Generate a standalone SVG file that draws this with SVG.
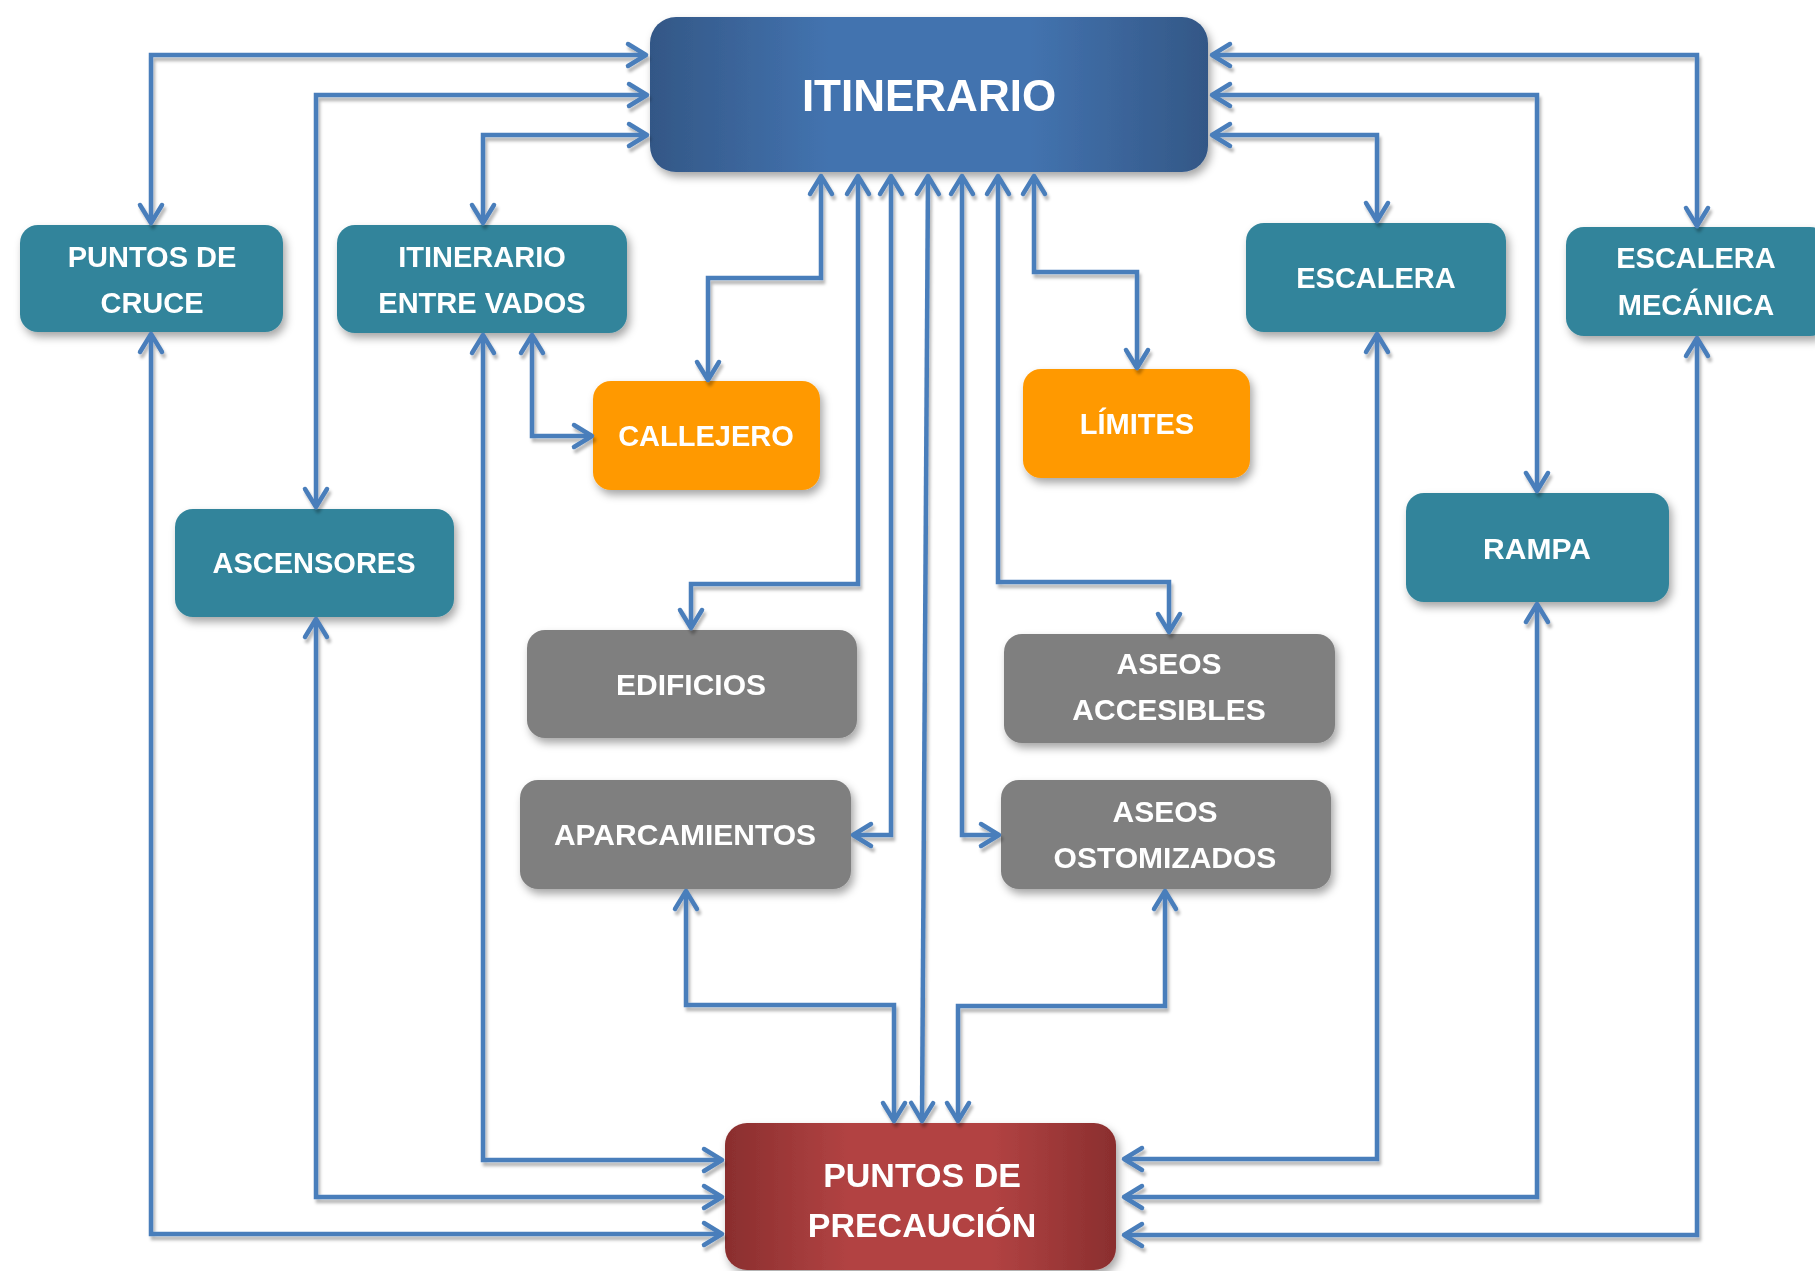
<svg xmlns="http://www.w3.org/2000/svg" width="1815" height="1271" viewBox="0 0 1815 1271">
<defs>
<style>
.t{font-family:"Liberation Sans",Arial,sans-serif;font-weight:bold;fill:#FFFFFF;text-anchor:middle}
.s{font-size:29px}
.g{font-size:30px}
.teal{fill:#31849B}
.org{fill:#FF9900}
.gry{fill:#7F7F7F}
.c{fill:none;stroke:#4A7EBB;stroke-width:4.5;stroke-linejoin:miter;marker-start:url(#ar);marker-end:url(#ar)}
</style>
<linearGradient id="gBlue" x1="0" y1="0" x2="1" y2="0">
<stop offset="0" stop-color="#335786"/>
<stop offset="0.32" stop-color="#4373AF"/>
<stop offset="0.68" stop-color="#4373AF"/>
<stop offset="1" stop-color="#335786"/>
</linearGradient>
<linearGradient id="gRed" x1="0" y1="0" x2="1" y2="0">
<stop offset="0" stop-color="#8A2E2E"/>
<stop offset="0.32" stop-color="#B24343"/>
<stop offset="0.68" stop-color="#B24343"/>
<stop offset="1" stop-color="#8A2E2E"/>
</linearGradient>
<filter id="sh" x="-10%" y="-10%" width="130%" height="140%">
<feDropShadow dx="3" dy="5" stdDeviation="4" flood-color="#000" flood-opacity="0.35"/>
</filter>
<filter id="lsh" filterUnits="userSpaceOnUse" x="0" y="0" width="1815" height="1271">
<feDropShadow dx="2" dy="4" stdDeviation="1.5" flood-color="#000" flood-opacity="0.28"/>
</filter>
<marker id="ar" markerUnits="userSpaceOnUse" markerWidth="24" markerHeight="24" viewBox="0 0 24 24" refX="20" refY="12" orient="auto-start-reverse" overflow="visible">
<path d="M2,1 L20,12 L2,23" fill="none" stroke="#4A7EBB" stroke-width="4.5" stroke-linecap="round" stroke-linejoin="round"/>
</marker>
</defs>
<rect x="0" y="0" width="1815" height="1271" fill="#FFFFFF"/>

<g id="itinerario" filter="url(#sh)">
<rect x="650" y="17" width="558" height="155" rx="26" fill="url(#gBlue)"/>
<text class="t" x="929" y="111" font-size="44">ITINERARIO</text>
</g>
<g id="puntos-de-cruce" filter="url(#sh)">
<rect class="teal" x="20" y="225" width="263" height="107" rx="18"/>
<text class="t s" x="152" y="267">PUNTOS DE</text>
<text class="t s" x="152" y="313">CRUCE</text>
</g>
<g id="itinerario-entre-vados" filter="url(#sh)">
<rect class="teal" x="337" y="225" width="290" height="108" rx="18"/>
<text class="t s" x="482" y="267">ITINERARIO</text>
<text class="t s" x="482" y="313">ENTRE VADOS</text>
</g>
<g id="callejero" filter="url(#sh)">
<rect class="org" x="593" y="381" width="227" height="109" rx="18"/>
<text class="t s" x="706" y="446">CALLEJERO</text>
</g>
<g id="limites" filter="url(#sh)">
<rect class="org" x="1023" y="369" width="227" height="109" rx="18"/>
<text class="t s" x="1137" y="434">LÍMITES</text>
</g>
<g id="escalera" filter="url(#sh)">
<rect class="teal" x="1246" y="223" width="260" height="109" rx="18"/>
<text class="t s" x="1376" y="288">ESCALERA</text>
</g>
<g id="escalera-mecanica" filter="url(#sh)">
<rect class="teal" x="1566" y="227" width="262" height="109" rx="18"/>
<text class="t s" x="1696" y="268">ESCALERA</text>
<text class="t s" x="1696" y="315">MECÁNICA</text>
</g>
<g id="ascensores" filter="url(#sh)">
<rect class="teal" x="175" y="509" width="279" height="108" rx="18"/>
<text class="t s" x="314" y="573">ASCENSORES</text>
</g>
<g id="rampa" filter="url(#sh)">
<rect class="teal" x="1406" y="493" width="263" height="109" rx="18"/>
<text class="t" x="1537" y="559" font-size="30">RAMPA</text>
</g>
<g id="edificios" filter="url(#sh)">
<rect class="gry" x="527" y="630" width="330" height="108" rx="18"/>
<text class="t g" x="691" y="695">EDIFICIOS</text>
</g>
<g id="aseos-accesibles" filter="url(#sh)">
<rect class="gry" x="1004" y="634" width="331" height="109" rx="18"/>
<text class="t g" x="1169" y="674">ASEOS</text>
<text class="t g" x="1169" y="720">ACCESIBLES</text>
</g>
<g id="aparcamientos" filter="url(#sh)">
<rect class="gry" x="520" y="780" width="331" height="109" rx="18"/>
<text class="t g" x="685" y="845">APARCAMIENTOS</text>
</g>
<g id="aseos-ostomizados" filter="url(#sh)">
<rect class="gry" x="1001" y="780" width="330" height="109" rx="18"/>
<text class="t g" x="1165" y="822">ASEOS</text>
<text class="t g" x="1165" y="868">OSTOMIZADOS</text>
</g>
<g id="puntos-de-precaucion" filter="url(#sh)">
<rect x="725" y="1123" width="391" height="147" rx="22" fill="url(#gRed)"/>
<text class="t" x="922" y="1187" font-size="34">PUNTOS DE</text>
<text class="t" x="922" y="1237" font-size="34">PRECAUCIÓN</text>
</g>

<g id="connectors" filter="url(#lsh)">
<path class="c" d="M151,223 V55 H646"/>
<path class="c" d="M316,507 V95 H647"/>
<path class="c" d="M483,223 V135 H647"/>
<path class="c" d="M1697,226 V55 H1212"/>
<path class="c" d="M1537,491 V95 H1212"/>
<path class="c" d="M1377,221 V135 H1212"/>
<path class="c" d="M708,380 V278 H821 V176"/>
<path class="c" d="M691,628 V584 H858 V176"/>
<path class="c" d="M853,835 H891 V176"/>
<path class="c" d="M928,176 L922,1121"/>
<path class="c" d="M999,835 H962 V176"/>
<path class="c" d="M1169,632 V582 H998 V176"/>
<path class="c" d="M1137,368 V272 H1034 V176"/>
<path class="c" d="M686,891 V1005 H894 V1121"/>
<path class="c" d="M1165,891 V1006 H958 V1121"/>
<path class="c" d="M483,335 V1160 H722"/>
<path class="c" d="M532,335 V436 H592"/>
<path class="c" d="M316,619 V1197 H722"/>
<path class="c" d="M151,334 V1234 H722"/>
<path class="c" d="M1377,334 V1159 H1124"/>
<path class="c" d="M1537,604 V1197 H1124"/>
<path class="c" d="M1697,338 V1235 H1124"/>
</g>
</svg>
